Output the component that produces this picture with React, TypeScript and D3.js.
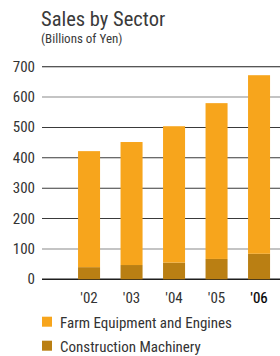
import React from "react";
import * as d3 from "d3";

const years = ["'02", "'03", "'04", "'05", "'06"];
const farm = [382, 405, 449, 513, 588];
const construction = [40, 47, 55, 67, 84];
const yTicks = [0, 100, 200, 300, 400, 500, 600, 700];
const seriesNames = ["Farm Equipment and Engines", "Construction Machinery"];
const colors = ["#F7A51C", "#BA7F13"];

const W = 280, H = 356;
const FONT = "'Liberation Sans Narrow', 'Roboto Condensed', Roboto, sans-serif";

export default function App() {
  const y = d3.scaleLinear().domain([0, 700]).range([279.3, 66.7]);
  const x = d3.scaleBand().domain(years).range([67.8, 280.3]).paddingInner(0.482).paddingOuter(0.241);
  const stack = d3.stack<any>().keys(["c", "f"])(
    years.map((yr, i) => ({ yr, c: construction[i], f: farm[i] }))
  );
  const gridColor = (t: number) => (t === 600 || t === 100 ? "#8a8a8a" : t === 0 || t === 700 ? "#1e1e1e" : "#3a3a3a");
  return (
    <svg width={W} height={H} style={{ position: "absolute", left: 0, top: 0, background: "#fff" }}>
      <text x={41} y={25.5} fontFamily={FONT} fontSize={20.5} fill="#3a3a3a">Sales by Sector</text>
      <text x={41} y={42.5} fontFamily={FONT} fontSize={13} fill="#3a3a3a">(Billions of Yen)</text>
      {yTicks.map((t) => (
        <g key={t}>
          <line x1={42} x2={280} y1={y(t)} y2={y(t)} stroke={gridColor(t)} strokeWidth={t === 0 ? 1.6 : 1.1} />
          <text x={35} y={y(t) + 5} textAnchor="end" fontFamily={FONT} fontSize={15} fill="#333">{t}</text>
        </g>
      ))}
      {stack.map((s, si) => (
        <g key={si} fill={si === 0 ? colors[1] : colors[0]}>
          {s.map((d, i) => (
            <rect key={i} x={x(years[i])} width={x.bandwidth()} y={y(d[1])} height={y(d[0]) - y(d[1])} />
          ))}
        </g>
      ))}
      {years.map((yr, i) => (
        <text key={yr} x={(x(yr) as number) + x.bandwidth() / 2} y={302.5} textAnchor="middle" fontFamily={FONT} fontSize={15}
          fill={i === years.length - 1 ? "#000" : "#333"} stroke={i === years.length - 1 ? "#000" : "none"} strokeWidth={0.2}>{yr}</text>
      ))}
      {seriesNames.map((n, i) => (
        <g key={n}>
          <rect x={42} y={316.7 + i * 24} width={10} height={10} fill={colors[i]} />
          <text x={60} y={327.5 + i * 24} fontFamily={FONT} fontSize={15} fill="#333">{n}</text>
        </g>
      ))}
    </svg>
  );
}
